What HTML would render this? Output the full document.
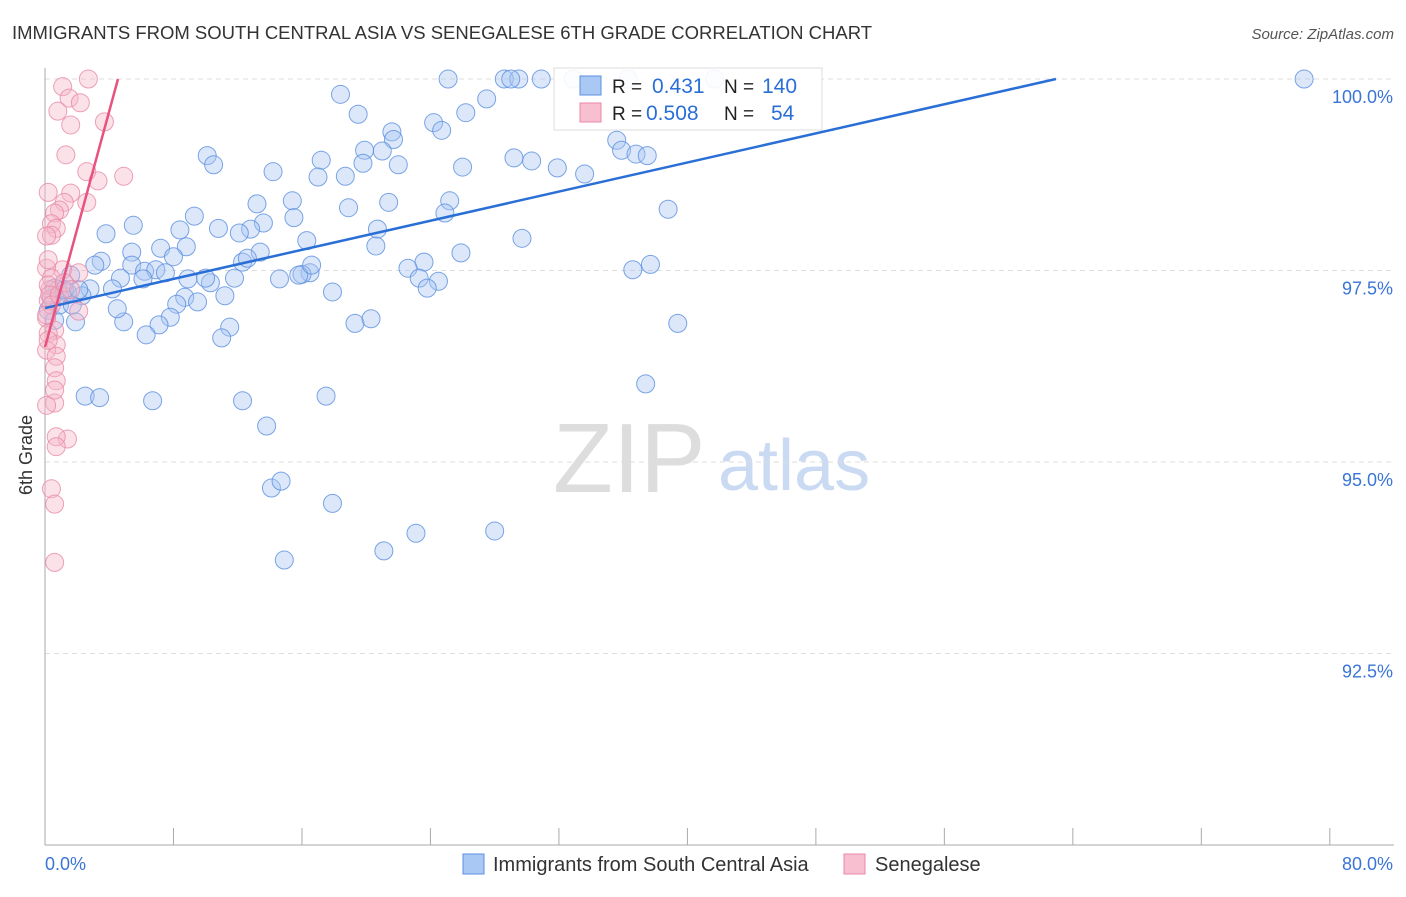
<!DOCTYPE html>
<html><head><meta charset="utf-8"><style>
body{margin:0;background:#fff;font-family:"Liberation Sans",sans-serif}
svg text{font-family:"Liberation Sans",sans-serif}
</style></head><body>
<svg id="chart" width="1406" height="892">
<text x="12" y="39" font-size="18.5" fill="#333">IMMIGRANTS FROM SOUTH CENTRAL ASIA VS SENEGALESE 6TH GRADE CORRELATION CHART</text>
<text x="1394" y="39" font-size="15" fill="#555" font-style="italic" text-anchor="end">Source: ZipAtlas.com</text>
<g><text x="553" y="492" font-size="98" fill="#ddd" font-family="Liberation Serif">ZIP</text><text x="718" y="490" font-size="72" fill="#c9daf2">atlas</text></g>
<g id="grid"></g><g id="axes"></g><g id="pts"></g><g id="lines"></g>
<g>
<rect x="554" y="68" width="268" height="62" fill="#fff" fill-opacity="0.9" stroke="#ddd"/>
<rect x="580" y="76" width="21" height="19" fill="#aac8f4" stroke="#5b8fe0"/>
<rect x="580" y="103" width="21" height="19" fill="#f8bfd0" stroke="#e88aa8"/>
<text x="612" y="93" font-size="19" fill="#222">R = </text><text x="652" y="93" font-size="21" fill="#2a6fd6">0.431</text>
<text x="724" y="93" font-size="19" fill="#222">N = </text><text x="762" y="93" font-size="21" fill="#2a6fd6">140</text>
<text x="612" y="120" font-size="19" fill="#222">R = </text><text x="646" y="120" font-size="21" fill="#2a6fd6">0.508</text>
<text x="724" y="120" font-size="19" fill="#222">N = </text><text x="771" y="120" font-size="21" fill="#2a6fd6">54</text>
</g>
<g>
<rect x="463" y="854" width="21" height="20" fill="#aac8f4" stroke="#5b8fe0"/>
<text x="493" y="871" font-size="20" fill="#333">Immigrants from South Central Asia</text>
<rect x="844" y="854" width="21" height="20" fill="#f8bfd0" stroke="#e88aa8"/>
<text x="875" y="871" font-size="20" fill="#333">Senegalese</text>
</g>
<text x="32" y="455" font-size="18" fill="#333" transform="rotate(-90 32 455)" text-anchor="middle">6th Grade</text>
</svg>
<script>
const blueX=[25.1,28.6,29.5,30.9,32.9,36.3,41.7,78.4,29.0,18.4,27.5,19.5,26.2,24.2,24.7,21.6,21.7,21.0,19.9,22.0,17.2,19.8,18.7,17.0,14.2,10.1,10.5,26.0,29.2,30.3,31.9,33.6,35.6,35.9,36.8,37.5,38.8,18.9,21.4,25.2,24.9,15.4,13.2,9.3,13.6,15.5,12.8,12.1,10.8,8.4,5.5,3.8,16.3,20.7,20.6,29.7,25.9,23.6,22.6,23.3,24.5,23.8,36.6,37.7,39.4,37.4,19.3,20.3,17.9,16.5,16.0,15.8,16.6,14.6,13.4,12.3,12.6,11.8,10.3,10.0,8.8,7.2,8.0,5.4,3.5,3.1,5.4,6.2,6.9,7.5,6.1,4.7,8.9,8.7,9.5,11.2,8.2,7.8,7.1,6.3,4.9,4.5,4.2,2.8,2.3,1.9,11.5,11.0,2.5,3.4,6.7,12.3,17.5,13.8,14.1,14.7,17.9,14.9,21.1,23.1,28.0,1.1,0.8,0.6,1.4,0.4,1.6,0.2,0.6,0.9,1.2,1.7,2.1];
const blueY=[100,100,100,100,100,100,100,100,100,99.80,99.74,99.54,99.56,99.43,99.33,99.31,99.21,99.06,99.07,98.88,98.94,98.90,98.73,98.72,98.79,99.0,98.88,98.85,98.97,98.93,98.84,98.76,99.20,99.07,99.02,99.00,98.30,98.32,98.39,98.41,98.25,98.41,98.37,98.21,98.12,98.19,98.04,97.99,98.05,98.03,98.09,97.98,97.89,98.04,97.82,97.92,97.73,97.61,97.53,97.40,97.36,97.27,97.51,97.58,96.81,96.02,96.81,96.87,97.22,97.47,97.45,97.44,97.57,97.39,97.74,97.61,97.66,97.40,97.34,97.40,97.81,97.79,97.68,97.74,97.62,97.57,97.57,97.49,97.51,97.47,97.39,97.40,97.39,97.15,97.09,97.17,97.06,96.89,96.79,96.66,96.83,97.00,97.26,97.26,97.17,96.83,96.76,96.62,95.86,95.84,95.80,95.80,95.86,95.47,94.66,94.75,94.46,93.72,93.84,94.07,94.10,97.18,97.25,97.27,97.21,97.14,97.44,96.98,96.85,97.05,97.25,97.05,97.25];
const pinkX=[2.7,1.1,1.5,2.2,0.8,3.7,1.6,1.3,4.9,2.6,3.3,0.2,1.6,2.6,1.2,0.9,0.6,0.4,0.7,0.4,0.1,1.1,0.1,2.1,0.4,0.3,0.2,0.1,2.1,0.6,0.2,0.7,0.1,0.7,0.6,0.7,0.6,0.1,1.4,0.7,0.7,0.4,0.6,0.6,0.2,0.3,0.4,0.1,0.9,0.2,0.2,0.6,1.2,1.6];
const pinkY=[100,99.9,99.75,99.69,99.58,99.44,99.40,99.01,98.73,98.79,98.67,98.52,98.51,98.39,98.39,98.29,98.25,98.11,98.05,97.96,97.95,97.51,97.53,97.47,97.40,97.25,97.11,96.88,96.97,96.72,96.68,96.53,96.46,96.38,96.23,96.06,95.77,95.74,95.30,95.33,95.20,94.65,94.45,93.69,97.31,97.18,97.05,96.92,97.18,97.64,96.59,95.94,97.34,97.25];
const blueTrend=[97.01,0.0475];
const pinkTrend=[96.5,0.77];
const yTicks=[100,97.5,95,92.5];
const yTickLabels=["100.0%","97.5%","95.0%","92.5%"];
const xTicks=[0,8,16,24,32,40,48,56,64,72,80];
const NS="http://www.w3.org/2000/svg";
const xs=v=>45+v*16.06, ys=v=>845-(v-90)*76.6;
function mk(p,t,a){const e=document.createElementNS(NS,t);for(const k in a)e.setAttribute(k,a[k]);p.appendChild(e);return e;}
const grid=document.getElementById('grid'),axes=document.getElementById('axes'),pts=document.getElementById('pts'),lines=document.getElementById('lines');
yTicks.forEach((t,i)=>{
 const l=mk(grid,'line',{x1:45,x2:1394,y1:ys(t),y2:ys(t),stroke:'#ddd','stroke-dasharray':'5,4'});
 
 
 const tx=mk(axes,'text',{x:1393,y:ys(t)+24,'font-size':18,fill:'#3a75d6','text-anchor':'end'});tx.textContent=yTickLabels[i];
 
 
});
const ya=mk(axes,'line',{x1:45,x2:45,y1:68,y2:845,stroke:'#aaa'});


const xa=mk(axes,'line',{x1:45,x2:1394,y1:845,y2:845,stroke:'#aaa'});


xTicks.forEach(t=>{const k=mk(axes,'line',{x1:xs(t),x2:xs(t),y1:828,y2:845,stroke:'#aaa'});
 
 });
const l0=mk(axes,'text',{x:45,y:870,'font-size':18,fill:'#3a75d6'});l0.textContent=xTicks[0].toFixed(1)+'%';


const l1=mk(axes,'text',{x:1393,y:870,'font-size':18,fill:'#3a75d6','text-anchor':'end'});l1.textContent=xTicks[xTicks.length-1].toFixed(1)+'%';


function dots(X,Y,fill,stroke,name){X.forEach((x,i)=>{const c=mk(pts,'circle',{cx:xs(x),cy:ys(Y[i]),r:9,fill:fill,'fill-opacity':0.4,stroke:stroke,'stroke-opacity':0.8,'stroke-width':1});
 
 });}
dots(blueX,blueY,'#a8c6f2','#5b8fe0','blue-point');
dots(pinkX,pinkY,'#f6b6c8','#e88aa8','pink-point');
function trend(tr,col,name){const xe=Math.min(80,(100-tr[0])/tr[1]);
 const l=mk(lines,'line',{x1:xs(0),y1:ys(tr[0]),x2:xs(xe),y2:ys(tr[0]+tr[1]*xe),stroke:col,'stroke-width':2.5});
 
 }
trend(blueTrend,'#2a6fd6','blue-trend-line');
trend(pinkTrend,'#e8527e','pink-trend-line');
</script>
</body></html>
